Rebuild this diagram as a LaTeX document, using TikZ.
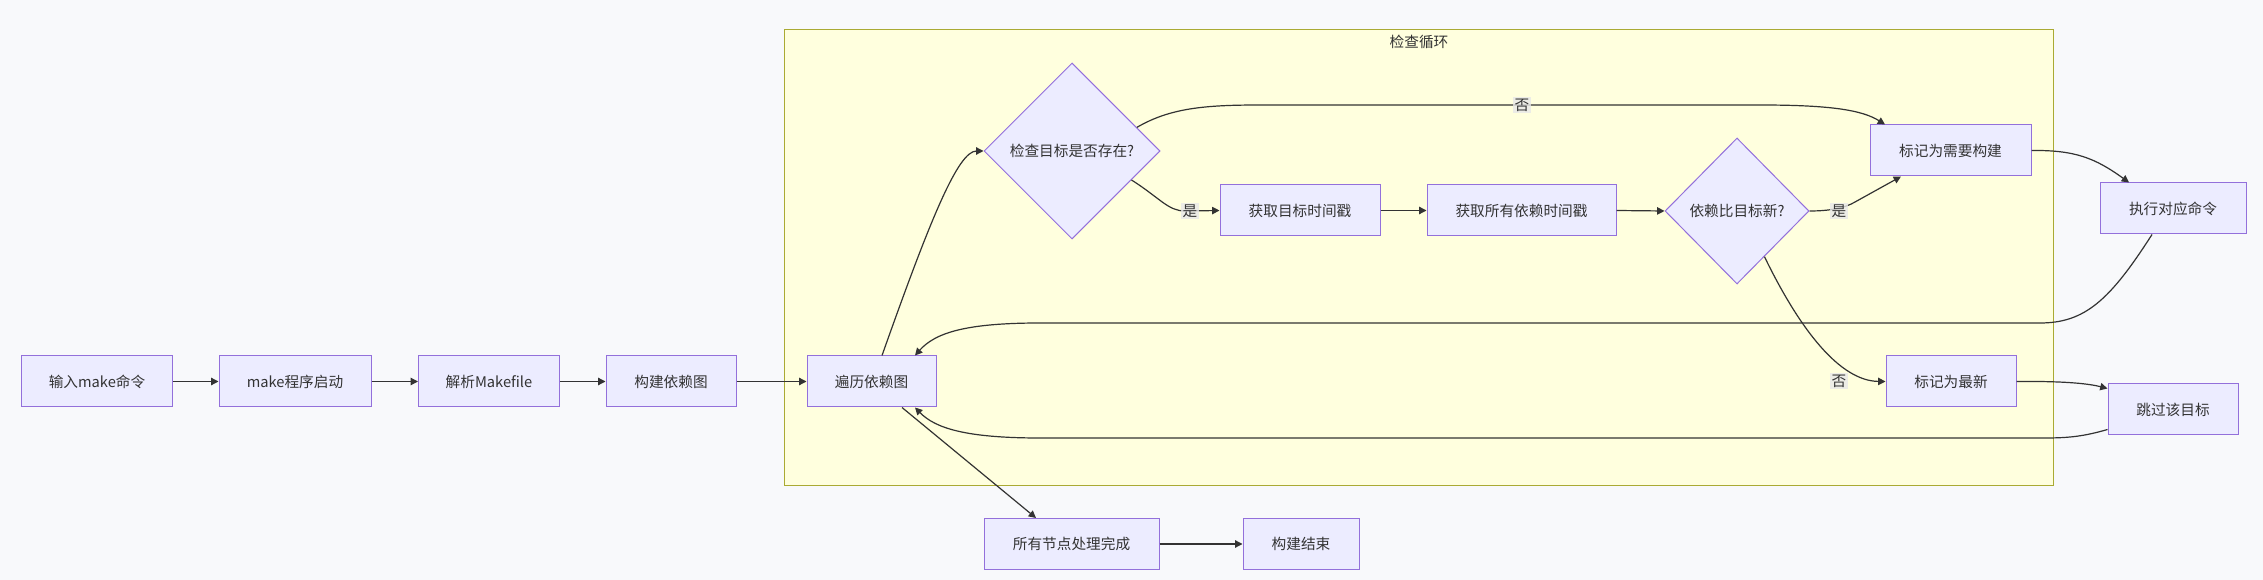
\documentclass[tikz,border=0pt]{standalone}
\usepackage{fontspec}
\setmainfont{Noto Sans CJK SC}
\usetikzlibrary{shapes.geometric,arrows.meta,calc}
\definecolor{bgc}{HTML}{F8F9FB}
\definecolor{nodefill}{HTML}{ECECFF}
\definecolor{nodeline}{HTML}{9370DB}
\definecolor{clusterfill}{HTML}{FFFFDE}
\definecolor{clusterline}{HTML}{AAAA33}
\definecolor{edgec}{HTML}{333333}
\definecolor{lblbg}{HTML}{E8E8E8}
\definecolor{txt}{HTML}{333333}
\begin{document}
\begin{tikzpicture}[x=0.75pt,y=-0.75pt,
  txtfont/.style={text=txt,font=\fontsize{11pt}{13pt}\selectfont},
  box/.style={txtfont,draw=nodeline,fill=nodefill,line width=0.75pt,rectangle,inner sep=0pt,minimum height=51*0.75pt,minimum width=#1*0.75pt},
  dia/.style 2 args={txtfont,draw=nodeline,fill=nodefill,line width=0.75pt,diamond,inner sep=0pt,minimum width=#1*0.75pt,minimum height=#2*0.75pt},
  flow/.style={draw=edgec,line width=0.9pt,-{Triangle[length=5.5pt,width=5.5pt]}},
  lbl/.style={txtfont,fill=lblbg,fill opacity=0.8,text opacity=1,inner sep=1.2pt},
  cluster/.style={draw=clusterline,fill=clusterfill,line width=0.75pt}
]
\useasboundingbox (0,0) rectangle (2263,580);
\fill[bgc] (0,0) rectangle (2263,580);
\draw[cluster] (784,30) rectangle (2053,486);
\node[txtfont] (title) at (1419,42) {检查循环};

\node[box=151] (b1) at (97,381.5) {输入make命令};
\node[box=152] (b2) at (295,381.5) {make程序启动};
\node[box=141] (b3) at (489,381.5) {解析Makefile};
\node[box=130] (b4) at (671,381.5) {构建依赖图};
\node[box=129] (trav) at (871.5,381.5) {遍历依赖图};
\node[dia={176}{176}] (d1) at (1072,151) {检查目标是否存在?};
\node[box=160] (get1) at (1300,210.5) {获取目标时间戳};
\node[box=189] (get2) at (1521.5,210.5) {获取所有依赖时间戳};
\node[dia={144}{146}] (d2) at (1737,211) {依赖比目标新?};
\node[box=161] (mark1) at (1950.5,150.5) {标记为需要构建};
\node[box=146] (exec) at (2173,208.5) {执行对应命令};
\node[box=130] (mark2) at (1951,381.5) {标记为最新};
\node[box=130] (skip) at (2173,409.5) {跳过该目标};
\node[box=175] (done) at (1071.5,544) {所有节点处理完成};
\node[box=116] (end) at (1301,544) {构建结束};

\draw[flow] (b1) -- (b2);
\draw[flow] (b2) -- (b3);
\draw[flow] (b3) -- (b4);
\draw[flow] (b4) -- (trav);
\draw[flow] ($(trav.north)+(10.5,0)$) .. controls (930,220) and (958,151) .. (d1.west);
\draw[flow] (d1.-26.2) .. controls (1160,198) and (1168,211) .. (1185,211) -- (get1.west)
  node[lbl] at (1190,211) {是};
\draw[flow] (get1) -- (get2);
\draw[flow] (get2.east) -- (d2.west);
\draw[flow] (d1.20.6) .. controls (1170,108) and (1205,105) .. (1260,105) -- (1760,105)
  .. controls (1830,105) and (1862,110) .. ($(mark1.north)+(-65.5,0)$)
  node[lbl] at (1522,105) {否};
\draw[flow] (d2.east) .. controls (1830,211) and (1845,208) .. (1855,202) -- ($(mark1.south)+(-49.5,0)$)
  node[lbl] at (1839,211) {是};
\draw[flow] (mark1.east) .. controls (2075,150) and (2095,158) .. ($(exec.north)+(-44,0)$);
\draw[flow] ($(exec.south)+(-21,0)$) .. controls (2110,300) and (2085,323) .. (2040,323) -- (1040,323)
  .. controls (965,323) and (935,333) .. ($(trav.north)+(43.5,0)$);
\draw[flow] (d2.-59.6) .. controls (1800,330) and (1840,381) .. (mark2.west)
  node[lbl] at (1839,381) {否};
\draw[flow] (mark2.east) .. controls (2068,381) and (2090,384) .. ($(skip.north west)+(0,5)$);
\draw[flow] ($(skip.south west)+(0,-6)$) .. controls (2085,436) and (2070,438) .. (2045,438) -- (1040,438)
  .. controls (965,438) and (935,428) .. ($(trav.south)+(43.5,0)$);
\draw[flow] ($(trav.south)+(30.5,0)$) -- ($(done.north)+(-35.5,0)$);
\draw[flow] (done) -- (end);
\end{tikzpicture}
\end{document}
